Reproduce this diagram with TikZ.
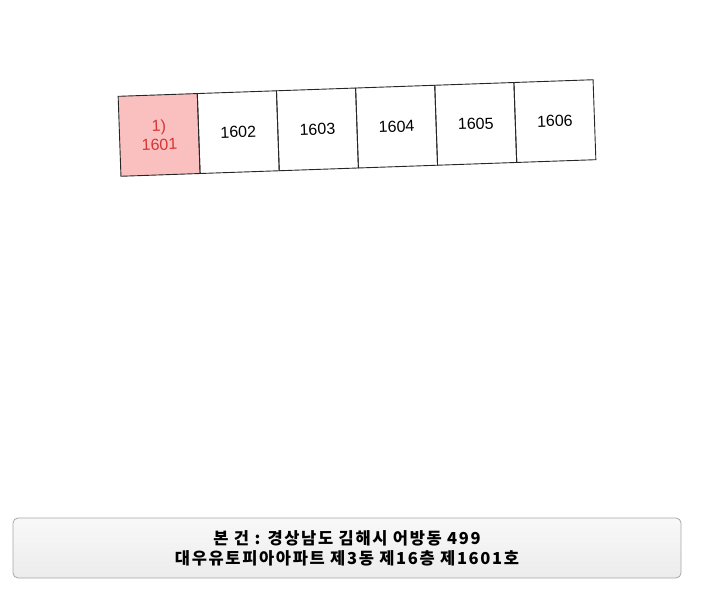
\documentclass[tikz,border=0pt]{standalone}
\usepackage{fontspec}
\setmainfont{Liberation Sans}
\newfontfamily\krfont[LetterSpace=10]{Noto Sans CJK KR}
\definecolor{ownred}{RGB}{214,52,52}
\definecolor{ownfill}{RGB}{250,192,192}
\begin{document}
\begin{tikzpicture}[x=1pt,y=-1pt,
    unit/.style={draw=black!85, line width=0.9pt, minimum width=79.2pt,
      minimum height=80pt, inner sep=0pt, align=center, transform shape,
      font=\fontsize{16}{19}\selectfont},
    own/.style={unit, fill=ownfill, text=ownred},
    panel/.style={draw=gray!70, line width=0.8pt, rounded corners=5pt,
      top color=gray!5, bottom color=gray!15, minimum width=668pt,
      minimum height=60pt, align=center,
      font=\krfont\bfseries\fontsize{16.5}{20}\selectfont}]
  \useasboundingbox (0,0) rectangle (712,600);
  % row of units on the 16th floor, slightly tilted
  \begin{scope}[shift={(357,128)}, rotate=2]
    \node[own] (u1) at (-198,0) {1)\\1601};
    \foreach \i in {2,...,6}
      \node[unit] (u\i) at ({(\i-3.5)*79.2},0) {160\i};
  \end{scope}
  % address of the unit
  \node[panel] (info) at (347,548)
    {본 건 : 경상남도 김해시 어방동 499\\대우유토피아아파트 제3동 제16층 제1601호};
\end{tikzpicture}
\end{document}
